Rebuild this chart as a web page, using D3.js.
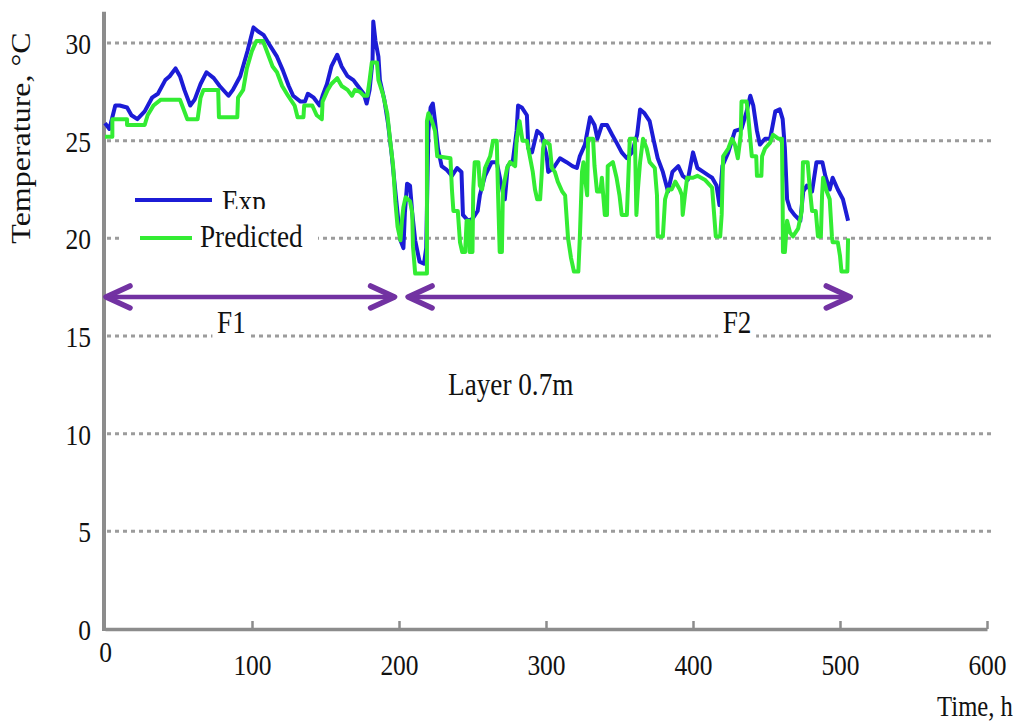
<!DOCTYPE html>
<html>
<head>
<meta charset="utf-8">
<script src="https://cdn.jsdelivr.net/npm/d3@7"></script>
<style>
  html, body { margin: 0; padding: 0; background: #fff; }
  svg { display: block; }
</style>
</head>
<body>
<svg id="chart" width="1022" height="722"></svg>
<script>
// Measured soil temperature (Exp) at the 0.7 m layer, hours vs °C
const expTime = [0,3,7,10,15,18,22,27,32,36,41,44,48,51,54,58,61,65,69,74,78,84,87,92,97,101,104,108,112,117,
  121,125,128,133,136,138,142,146,148,151,154,158,161,165,169,172,176,178,180,182,182.5,184,186,187,190,192.5,195,197,199,201,
  203,204,205.5,207.5,209,211,214,217,218.5,220,221.5,223,224.5,226.5,229,232.5,236,239.5,242.5,243.5,
  247,250,253.5,255,258.5,263,266.5,270.5,272,274,277.5,280,281,283.5,287,288,290.5,294,297,300.5,
  301.5,305,309.5,314,318,321,323,326.5,330,333,335,338,341.5,345,348,351.5,355,358.5,362,364,
  367,370.5,373,376,379.5,383,386,390,393,396.5,400,403,407,411,413,416,418,420,424,428.5,
  433,436.5,439,441,443.5,445.5,449,452.5,456,459,461,462.5,464,466,469,473,475,477.5,481,484,
  488,490,493,495,498.5,502,505.5];
const expTemp = [25.9,25.6,26.8,26.8,26.7,26.3,26.1,26.5,27.2,27.4,28.1,28.3,28.7,28.3,27.6,26.8,27.1,27.9,28.5,28.2,
  27.8,27.3,27.6,28.3,29.6,30.8,30.6,30.4,29.9,29.3,28.6,27.8,27.3,27.0,27.0,27.4,27.2,26.8,27.3,27.9,
  28.8,29.4,28.8,28.3,28.1,27.8,27.4,26.9,27.6,29.1,31.1,30.1,29.3,28.1,27.1,25.9,24.3,22.8,21.3,19.9,
  19.5,21.3,22.8,22.7,21.3,19.9,18.8,18.7,19.5,25.5,26.7,26.9,26.0,24.6,23.7,23.5,23.2,23.6,23.4,21.2,
  20.9,21.0,21.4,22.2,23.2,23.9,23.9,22.4,22.0,23.7,24.0,25.5,26.8,26.7,26.3,24.6,24.4,25.5,25.3,24.2,
  23.4,23.6,24.1,23.9,23.7,23.6,24.2,24.8,26.2,25.8,25.1,25.8,25.8,25.3,24.9,24.4,24.1,24.4,25.3,26.6,
  26.4,26.0,25.1,24.1,23.4,22.4,23.4,23.7,23.2,23.0,24.4,23.6,23.4,23.2,23.1,22.7,21.7,23.7,24.4,25.5,
  25.6,26.5,27.3,26.8,25.5,24.8,25.1,25.1,26.5,26.6,26.1,24.6,22.0,21.5,21.2,20.9,22.4,22.7,22.4,23.9,
  23.9,23.2,22.5,23.1,22.5,22.0,20.9];

// Model prediction (stepwise output)
const predTime = [0,5,5,15,15,27,29,33,38,51,
  53,56,63,65,67,77,77.5,90,90.5,94,
  96.5,100,103,107.5,111,114,117,120.5,124.5,129,
  131,135,135.5,141,144,147.5,148,151.5,154,158,
  161,165,168,170,173.5,176,178.5,180,181.5,185,
  186,189,192,194,196,197.5,199,201,202,203,
  204.5,207.5,209,209.5,211,219,219,220,222,224.5,
  226,235,236,237,240,241.5,243,245,246,247.5,
  248,250,250.5,251.5,254,255,256.5,258.5,262,264,
  266.5,267.3,268.5,270,270.7,273.5,275.5,279,280,282,
  284,287,289,291,292.5,294,296,297,298,299,
  302.5,304,306,308,311,313,315,317,319,322,
  323,324.5,325.5,326.5,328,328.6,332,333,334.7,337,
  338,340,341.5,342,345.5,348,350,351.5,355,356,
  357,360.5,361.5,362.5,364,366,368.5,370.5,374,375.5,
  376,379.5,381,383,385.5,388,391,392.5,393,394.5,
  396,400,403,408,413,415.5,418.5,419.5,420.5,424,
  426.5,428.5,430.5,432.5,433,436.5,437.5,440,443,443.5,
  446.5,447,449,452.5,454.5,458,460.5,461,461.2,462.5,
  464,466,468,471.5,474,474.8,478,479.5,481,483.5,
  485,487,487.8,488.5,491,493,494.5,495,498.5,500,
  501,505,505.5];
const predTemp = [25.2,25.2,26.1,26.1,25.8,25.8,26.3,26.8,27.1,27.1,
  26.7,26.1,26.1,27.2,27.6,27.6,26.2,26.2,27.2,27.6,
  28.7,29.6,30.1,30.1,29.4,28.8,28.5,27.8,27.3,26.8,
  26.2,26.2,26.8,26.8,26.3,26.1,27.0,27.6,27.9,28.2,
  27.8,27.6,27.3,27.6,27.5,27.3,27.3,28.1,29.0,29.0,
  28.1,27.4,26.4,25.0,23.7,21.9,20.6,19.9,20.9,21.6,
  22.1,21.9,21.3,19.6,18.2,18.2,26.0,26.4,26.1,25.5,
  24.2,24.1,22.5,21.4,21.4,19.8,19.3,19.3,20.9,20.9,
  19.3,19.3,22.5,23.9,23.9,22.7,22.5,23.6,24.2,25.0,
  25.0,22.5,19.3,19.3,22.5,23.6,23.9,23.7,25.0,26.0,
  25.0,25.0,24.2,23.4,22.5,22.0,22.0,23.2,24.6,25.0,
  24.8,23.6,23.4,22.9,22.4,22.2,20.0,19.0,18.3,18.3,
  20.0,23.4,23.9,23.1,22.2,25.1,25.1,23.7,22.4,22.4,
  23.1,21.2,21.2,23.7,23.9,23.1,22.2,21.2,21.2,23.1,
  25.1,25.1,21.2,22.5,23.9,25.1,24.6,23.9,23.6,22.2,
  20.1,20.1,22.0,22.5,22.5,22.9,22.5,22.2,21.2,22.2,
  23.1,23.1,23.2,23.0,22.6,20.1,20.1,21.2,24.2,24.6,
  25.1,24.8,24.1,25.3,27.0,27.0,26.3,24.2,24.2,23.2,
  23.2,24.2,24.6,24.9,25.3,25.1,25.1,21.7,19.3,19.3,
  20.9,20.3,20.1,20.5,21.4,23.9,23.9,22.5,21.4,21.4,
  20.1,20.1,22.2,23.1,22.4,22.0,20.1,19.8,19.8,19.1,
  18.3,18.3,20.0];

// Axis ticks
const xTicks = [0, 100, 200, 300, 400, 500, 600];
const yTicks = [0, 5, 10, 15, 20, 25, 30];
const gridValues = [5, 10, 15, 20, 25, 30];

// Operating phases (hours) shown as double arrows
const phaseNames = ["F1", "F2"];
const phaseStart = [0, 205.5];
const phaseEnd = [197, 507];
const phaseLabelAt = [86, 430];
const phaseLevel = 17;

const seriesNames = ["Exp", "Predicted"];
const seriesColors = ["#1c1cd6", "#33ec33"];

const FONT = "'Liberation Serif', 'Times New Roman', serif";
const SX = 0.85; // narrow type

const svg = d3.select("#chart");
const x = d3.scaleLinear().domain([0, 600]).range([105, 987]);
const y = d3.scaleLinear().domain([0, 30]).range([629, 43]);

// dotted horizontal grid
svg.append("g")
  .selectAll("line")
  .data(gridValues)
  .join("line")
  .attr("x1", x(0) + 2)
  .attr("x2", x(600) + 4)
  .attr("y1", d => y(d))
  .attr("y2", d => y(d))
  .attr("stroke", "#9c9c9c")
  .attr("stroke-width", 3)
  .attr("stroke-dasharray", "4 4");

// x axis with upward ticks
const gx = svg.append("g")
  .attr("transform", `translate(0,${y(0)})`)
  .call(d3.axisBottom(x).tickValues(xTicks).tickSize(-8).tickSizeOuter(0))
  .attr("font-family", FONT)
  .attr("font-size", 30);
gx.select(".domain").attr("stroke", "#8c8c8c").attr("stroke-width", 3.5);
gx.selectAll(".tick line").attr("stroke", "#8c8c8c").attr("stroke-width", 2.5);
gx.selectAll(".tick").filter(d => d === 0).select("line").remove();
gx.selectAll(".tick text")
  .attr("y", null).attr("dy", null)
  .attr("fill", "#111")
  .attr("transform", d => `translate(0,${d === 0 ? 33 : 46}) scale(${SX},1)`);

// y axis labels (no tick marks)
const gy = svg.append("g")
  .attr("transform", `translate(${x(0)},0)`)
  .call(d3.axisLeft(y).tickValues(yTicks).tickSize(0))
  .attr("font-family", FONT)
  .attr("font-size", 30);
gy.select(".domain").remove();
gy.selectAll(".tick text")
  .attr("x", null).attr("dy", "0.35em")
  .attr("fill", "#111")
  .attr("transform", `translate(-14,0) scale(${SX},1)`);

svg.append("line")
  .attr("x1", x(0) - 1).attr("x2", x(0) - 1)
  .attr("y1", y(0) + 2).attr("y2", y(31.6))
  .attr("stroke", "#8c8c8c").attr("stroke-width", 4);

// data lines
const line = d3.line().x(d => x(d[0])).y(d => y(d[1]));
const expPts = d3.zip(expTime, expTemp);
const predPts = d3.zip(predTime, predTemp);

svg.append("path").datum(expPts)
  .attr("d", line).attr("fill", "none")
  .attr("stroke", seriesColors[0]).attr("stroke-width", 4)
  .attr("stroke-linejoin", "round");
svg.append("path").datum(predPts)
  .attr("d", line).attr("fill", "none")
  .attr("stroke", seriesColors[1]).attr("stroke-width", 4)
  .attr("stroke-linejoin", "round");

// phase arrows
const PURPLE = "#7232a2";
const ay = y(phaseLevel);
const arrows = svg.append("g").attr("stroke", PURPLE).attr("fill", "none")
  .attr("stroke-linecap", "round").attr("stroke-linejoin", "round");
phaseNames.forEach((name, i) => {
  const a = x(phaseStart[i]) + 1, b = x(phaseEnd[i]);
  arrows.append("line").attr("x1", a + 2).attr("x2", b - 2)
    .attr("y1", ay).attr("y2", ay).attr("stroke-width", 4.5);
  arrows.append("path").attr("stroke-width", 5.5)
    .attr("d", `M${a + 24},${ay - 11}L${a},${ay}L${a + 24},${ay + 11}`);
  arrows.append("path").attr("stroke-width", 5.5)
    .attr("d", `M${b - 24},${ay - 11}L${b},${ay}L${b - 24},${ay + 11}`);

  const lx = x(phaseLabelAt[i]);
  svg.append("rect").attr("x", lx - 19).attr("y", ay + 10)
    .attr("width", 38).attr("height", 34).attr("fill", "#fff");
  svg.append("text")
    .attr("transform", `translate(${lx},${ay + 36}) scale(${SX},1)`)
    .attr("text-anchor", "middle")
    .attr("font-family", FONT).attr("font-size", 32).attr("fill", "#111")
    .text(name);
});

// legend
const legend = svg.append("g").attr("font-family", FONT).attr("font-size", 32).attr("fill", "#111");
legend.append("rect").attr("x", 120).attr("y", 176).attr("width", 198).attr("height", 34).attr("fill", "#fff");
legend.append("line").attr("x1", 135).attr("x2", 212).attr("y1", 200).attr("y2", 200)
  .attr("stroke", seriesColors[0]).attr("stroke-width", 4);
legend.append("text").attr("transform", `translate(222,212) scale(${SX},1)`).text(seriesNames[0]);
legend.append("rect").attr("x", 120).attr("y", 209).attr("width", 198).attr("height", 43).attr("fill", "#fff");
legend.append("line").attr("x1", 140).attr("x2", 192).attr("y1", 238).attr("y2", 238)
  .attr("stroke", seriesColors[1]).attr("stroke-width", 4);
legend.append("text").attr("transform", `translate(200,247) scale(${SX},1)`).text(seriesNames[1]);

// annotations and axis titles
svg.append("text")
  .attr("transform", `translate(${x(276)},395) scale(${SX},1)`)
  .attr("text-anchor", "middle")
  .attr("font-family", FONT).attr("font-size", 32).attr("fill", "#111")
  .text("Layer 0.7m");

svg.append("text")
  .attr("transform", `translate(30,138) scale(${SX},1) rotate(-90)`)
  .attr("text-anchor", "middle")
  .attr("font-family", FONT).attr("font-size", 32).attr("fill", "#111")
  .text("Temperature, °C");

svg.append("text")
  .attr("transform", `translate(975,716) scale(${SX},1)`)
  .attr("text-anchor", "middle")
  .attr("font-family", FONT).attr("font-size", 29).attr("fill", "#111")
  .text("Time, h");
</script>
</body>
</html>
